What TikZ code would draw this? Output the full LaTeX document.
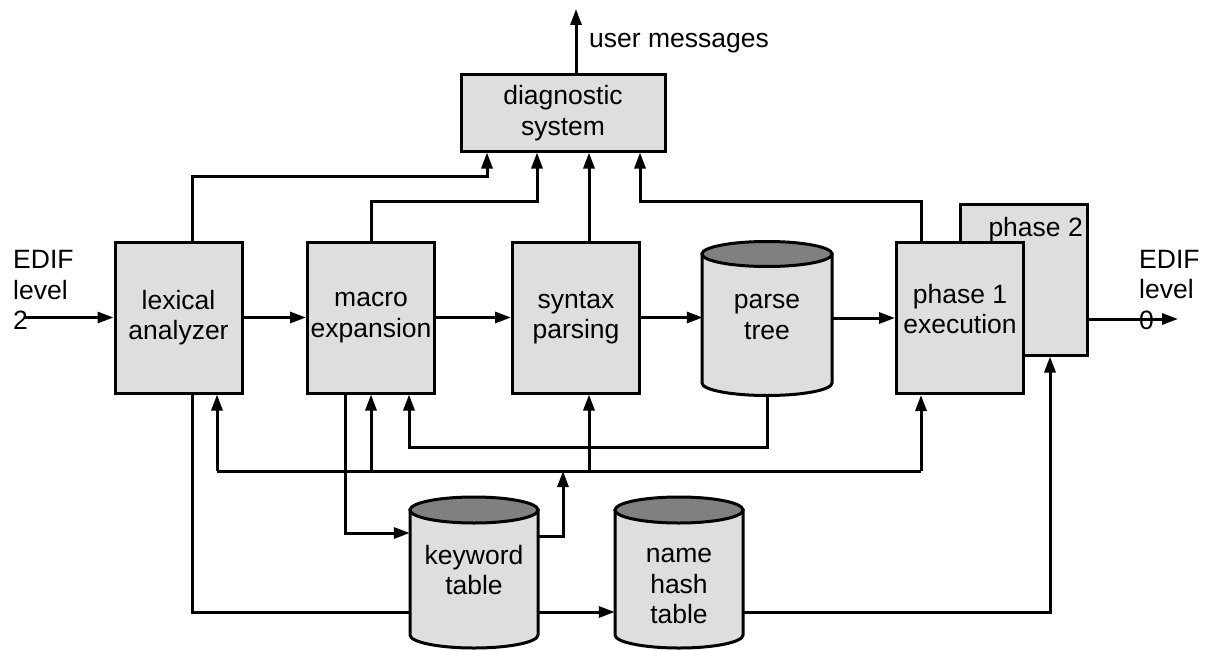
\documentclass[tikz,border=0pt]{standalone}
\usepackage{fontspec}
\setmainfont{Liberation Sans}
\usetikzlibrary{arrows.meta,calc}
\pgfdeclarelayer{bg}
\pgfsetlayers{bg,main}
\definecolor{boxgray}{HTML}{DEDEDE}
\definecolor{topgray}{HTML}{808080}
\newcommand\mycyl[5]{%
 \filldraw[fill=boxgray, line width=3pt] ({#1-#4},{-#2}) -- ({#1-#4},{-#3}) arc[start angle=180,end angle=360,x radius=#4,y radius=#5] -- ({#1+#4},{-#2}) -- cycle;
 \filldraw[fill=topgray, line width=3pt] (#1,-#2) ellipse[x radius=#4, y radius=#5];}
\begin{document}
\begin{tikzpicture}[x=1pt,y=1pt, font=\fontsize{26.5}{30.5}\selectfont,
 box/.style={draw, fill=boxgray, line width=3pt, inner sep=0pt, align=center, minimum width=127pt, minimum height=151pt},
 lbl/.style={inner sep=0pt, align=left},
 ln/.style={line width=3pt},
 arr/.style={line width=3pt, -{Triangle[length=16pt,width=11pt]}},
 dbtext/.style={inner sep=0pt, align=center, minimum width=128pt}]
\useasboundingbox (0,0) rectangle (1209,-650);
% boxes
\node[box, minimum width=204pt, minimum height=76pt] (diag) at (563,-113) {diagnostic\\system};
\node[box] (lex) at (178.5,-317.5) {lexical\\analyzer};
\node[box] (mac) at (371,-317.5) {macro\\expansion};
\node[box] (syn) at (576,-317.5) {syntax\\parsing};
\node[box] (ph2) at (1024,-279.5) {};
\node[lbl, anchor=base east] (ph2t) at (1083,-236) {phase 2};
\node[box, label={[align=center, inner sep=0pt, yshift=9pt]center:{phase 1\\execution}}] (ph1) at (960,-318) {};
% cylinder texts
\node[dbtext, minimum height=154pt] (pt) at (767,-317) {parse\\tree};
\node[dbtext, minimum height=151pt] (kw) at (474,-570) {keyword\\table};
\node[dbtext, minimum height=128pt] (nh) at (679,-586) {name\\hash\\table};
% background: line behind keyword table, cylinders
\begin{pgfonlayer}{bg}
 \draw[arr] ([xshift=13.5]lex.south) |- (nh.west |- 0,-612);
 \mycyl{767}{254}{383}{65}{12.5}
 \mycyl{474}{510}{635}{64}{13}
 \mycyl{679}{510}{635}{64}{13}
\end{pgfonlayer}
% labels
\node[lbl, anchor=west] (edin) at (13,-290) {EDIF\\level\\2};
\node[lbl, anchor=west] (edout) at (1139,-290) {EDIF\\level\\0};
\node[lbl, anchor=base west] (umt) at (589,-48) {user messages};
% to diagnostic system
\coordinate (um) at (576,-9);
\draw[arr] (diag.north -| um) -- (um);
\draw[arr] ([xshift=13.5]lex.north) -- ++(0,64) -| ([xshift=-76]diag.south);
\draw[arr] (mac.north) -- ++(0,39) -| ([xshift=-26]diag.south);
\draw[arr] ([xshift=13]syn.north) -- ([xshift=26]diag.south);
\draw[arr] ([xshift=-39]ph1.north) -- ++(0,40) -| ([xshift=77]diag.south);
% main flow
\coordinate (in) at (25,-317.5);
\draw[arr] (in) -- (lex.west);
\draw[arr] (lex.east) -- (mac.west);
\draw[arr] (mac.east) -- (syn.west);
\draw[arr] (syn.east) -- (syn.east -| pt.west);
\draw[arr] (pt.east |- ph1.west) -- (ph1.west);
\coordinate (out) at (1178,-319);
\draw[arr] (ph2.east |- out) -- (out);
% bus
\coordinate (bus) at (0,-471);
\draw[ln] ([xshift=38.5]lex.south |- bus) -- ([xshift=-39]ph1.south |- bus);
\draw[arr] ([xshift=38.5]lex.south |- bus) -- ([xshift=38.5]lex.south);
\draw[arr] (mac.south |- bus) -- (mac.south);
\draw[arr] ([xshift=13]syn.south |- bus) -- ([xshift=13]syn.south);
\draw[arr] ([xshift=-39]ph1.south |- bus) -- ([xshift=-39]ph1.south);
\draw[arr] (kw.east |- 0,-536) -| ([xshift=89]kw.north |- bus);
% other connectors
\draw[arr] ([xshift=-26]mac.south) |- (kw.west |- 0,-533);
\draw[arr] (pt.south |- 0,-395) -- ++(0,-52) -| ([xshift=38]mac.south);
\draw[arr] (nh.east |- 0,-612) -| ([xshift=26]ph2.south);
\end{tikzpicture}
\end{document}
